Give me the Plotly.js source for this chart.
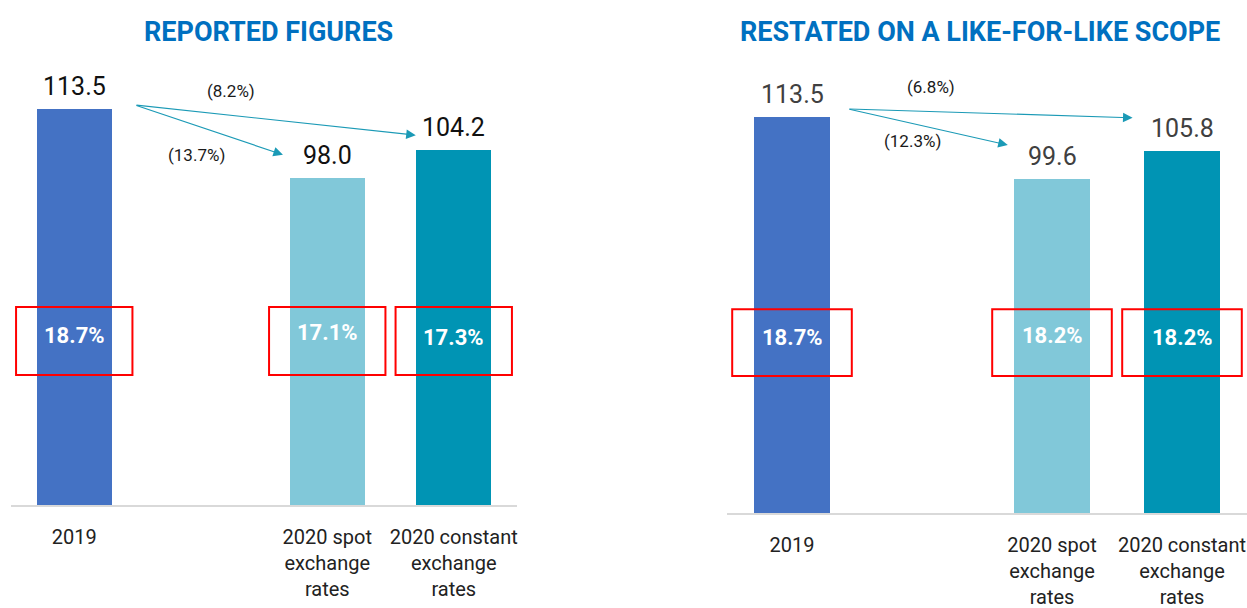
<!DOCTYPE html>
<html><head><meta charset="utf-8">
<script src="https://cdn.plot.ly/plotly-3.0.1.min.js"></script>
<style>html,body{margin:0;padding:0;background:#fff}#chart{width:1247px;height:608px}</style>
</head><body><div id="chart"></div>
<script>
// ---- data ----
const categories = ['2019', ' ', '2020 spot<br>exchange<br>rates', '2020 constant<br>exchange<br>rates'];
const barCategories = ['2019', '2020 spot<br>exchange<br>rates', '2020 constant<br>exchange<br>rates'];
const reportedValues = [113.5, 98.0, 104.2];
const restatedValues = [113.5, 99.6, 105.8];
const reportedMargins = ['18.7%', '17.1%', '17.3%'];
const restatedMargins = ['18.7%', '18.2%', '18.2%'];
const reportedChanges = ['(13.7%)', '(8.2%)'];   // to spot, to constant
const restatedChanges = ['(12.3%)', '(6.8%)'];
const barColors = ['#4472C4', '#81C8D9', '#0094B4'];
const titles = ['REPORTED FIGURES', 'RESTATED ON A LIKE-FOR-LIKE SCOPE'];

const FONT = 'Roboto, sans-serif';
const ARROW = '#1B9AB6';

function barTrace(vals, xa, ya) {
  return {type: 'bar', x: barCategories, y: vals, xaxis: xa, yaxis: ya,
    width: 0.59, marker: {color: barColors, line: {width: 0}},
    hoverinfo: 'skip', showlegend: false};
}

const data = [barTrace(reportedValues, 'x', 'y'), barTrace(restatedValues, 'x2', 'y2')];

const annotations = [];
const shapes = [];

function panel(xr, yr, vals, margins, changes, valColor, pctY, boxY0, boxY1, arrowCfg) {
  vals.forEach((v, i) => {
    const idx = categories.indexOf(barCategories[i]);
    annotations.push({xref: xr, yref: yr, x: idx, y: v,
      text: v.toFixed(1), showarrow: false, xanchor: 'center', yanchor: 'bottom', yshift: 6,
      font: {family: FONT, size: 25, color: valColor}});
  });
  margins.forEach((m, i) => {
    const idx = categories.indexOf(barCategories[i]);
    annotations.push({xref: xr, yref: yr, x: idx, y: pctY[i], text: '<b>' + m + '</b>',
      showarrow: false, xanchor: 'center', yanchor: 'middle',
      font: {family: FONT, size: 22, color: '#FFFFFF'}});
    shapes.push({type: 'rect', xref: xr, yref: yr, x0: idx - 0.46, x1: idx + 0.46,
      y0: boxY0, y1: boxY1, line: {color: '#FF0000', width: 2}, fillcolor: 'rgba(0,0,0,0)'});
  });
  arrowCfg.tips.forEach((t, k) => {
    annotations.push({xref: xr, yref: yr, axref: xr, ayref: yr, x: t[0], y: t[1],
      ax: arrowCfg.origin[0], ay: arrowCfg.origin[1], text: '', showarrow: true,
      arrowhead: 2, arrowsize: 1.6, arrowwidth: 1.2, arrowcolor: ARROW, standoff: 0});
    annotations.push({xref: xr, yref: yr, x: arrowCfg.labels[k][0], y: arrowCfg.labels[k][1],
      text: changes[k], showarrow: false, xanchor: 'center', yanchor: 'middle',
      font: {family: FONT, size: 17, color: '#1a1a1a'}});
  });
}

panel('x', 'y', reportedValues, reportedMargins, reportedChanges, '#111111',
  [62.7, 63.2, 62.1], 53.7, 69.0,
  {origin: [0.48, 114.4], tips: [[1.65, 103.2], [2.70, 107.6]], labels: [[0.97, 103.2], [1.24, 117.5]]});
panel('x2', 'y2', restatedValues, restatedMargins, restatedChanges, '#404040',
  [64.1, 64.4, 64.1], 55.4, 70.4,
  {origin: [0.43, 115.3], tips: [[1.66, 107.2], [2.62, 113.3]], labels: [[0.93, 108.1], [1.07, 120.2]]});

annotations.push({xref: 'paper', yref: 'paper', x: 268/1247, y: 1 - 32/608, xanchor: 'center', yanchor: 'middle',
  text: '<b>' + titles[0] + '</b>', showarrow: false, font: {family: FONT, size: 27, color: '#0070C0'}});
annotations.push({xref: 'paper', yref: 'paper', x: 980/1247, y: 1 - 32/608, xanchor: 'center', yanchor: 'middle',
  text: '<b>' + titles[1] + '</b>', showarrow: false, font: {family: FONT, size: 27, color: '#0070C0'}});

function xaxis(domain) {
  return {domain: domain, type: 'category', categoryorder: 'array', categoryarray: categories,
    range: [-0.5, 3.5], showline: true, linecolor: '#D9D9D9', linewidth: 1.5, ticks: '',
    showgrid: false, zeroline: false, ticklabelstandoff: 13, automargin: false,
    tickfont: {family: FONT, size: 20, color: '#222222'}, fixedrange: true};
}
function yaxis(domain, range) {
  return {domain: domain, range: range, showticklabels: false, showgrid: false,
    zeroline: false, showline: false, automargin: false, fixedrange: true};
}

const layout = {
  width: 1247, height: 608, margin: {l: 0, r: 0, t: 0, b: 0},
  paper_bgcolor: '#FFFFFF', plot_bgcolor: '#FFFFFF', bargap: 0,
  xaxis: Object.assign(xaxis([11/1247, 517/1247]), {anchor: 'y'}),
  xaxis2: Object.assign(xaxis([727/1247, 1]), {anchor: 'y2'}),
  yaxis: Object.assign(yaxis([103/608, 548/608], [24.5, 124.5]), {anchor: 'x'}),
  yaxis2: Object.assign(yaxis([95/608, 548/608], [24.7, 126.27]), {anchor: 'x2'}),
  annotations: annotations, shapes: shapes, showlegend: false
};

Plotly.newPlot('chart', data, layout, {staticPlot: true, displayModeBar: false});
</script></body></html>
